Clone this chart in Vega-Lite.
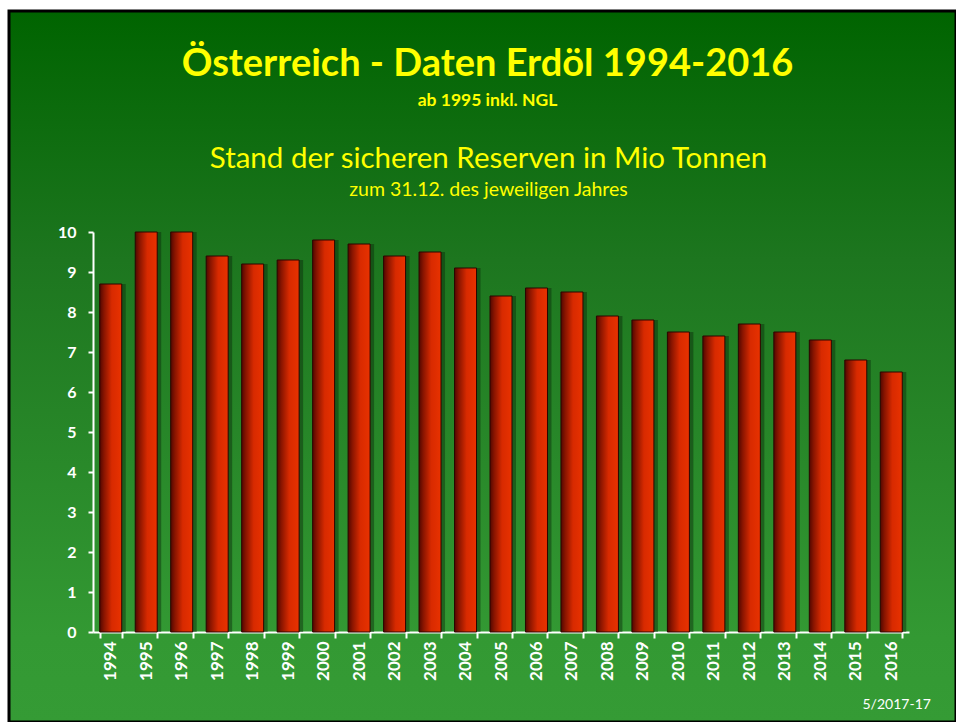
{
  "$schema": "https://vega.github.io/schema/vega-lite/v6.json",
  "width": 947,
  "height": 711,
  "autosize": {"type": "none"},
  "padding": {"left": 9, "top": 11, "right": 0, "bottom": 0},
  "background": "#ffffff",
  "view": {
    "fill": {"gradient": "linear", "x1": 0, "y1": 0, "x2": 0, "y2": 1,
      "stops": [
        {"offset": 0, "color": "#006400"},
        {"offset": 0.35, "color": "#1d761f"},
        {"offset": 0.88, "color": "#339933"},
        {"offset": 1, "color": "#359b35"}
      ]},
    "stroke": "#000000",
    "strokeWidth": 3
  },
  "title": {
    "text": "Österreich - Daten Erdöl 1994-2016",
    "subtitle": "ab 1995 inkl. NGL",
    "anchor": "middle",
    "frame": "group",
    "orient": "top",
    "offset": -98,
    "dx": 5,
    "font": "Lato",
    "fontSize": 38,
    "fontWeight": "bold",
    "color": "#ffff00",
    "subtitleFont": "Lato",
    "subtitleFontSize": 17.5,
    "subtitleFontWeight": "bold",
    "subtitleColor": "#ffff00",
    "subtitlePadding": 8
  },
  "data": {"values": [
    {"year": "1994", "value": 8.7},
    {"year": "1995", "value": 10.0},
    {"year": "1996", "value": 10.0},
    {"year": "1997", "value": 9.4},
    {"year": "1998", "value": 9.2},
    {"year": "1999", "value": 9.3},
    {"year": "2000", "value": 9.8},
    {"year": "2001", "value": 9.7},
    {"year": "2002", "value": 9.4},
    {"year": "2003", "value": 9.5},
    {"year": "2004", "value": 9.1},
    {"year": "2005", "value": 8.4},
    {"year": "2006", "value": 8.6},
    {"year": "2007", "value": 8.5},
    {"year": "2008", "value": 7.9},
    {"year": "2009", "value": 7.8},
    {"year": "2010", "value": 7.5},
    {"year": "2011", "value": 7.4},
    {"year": "2012", "value": 7.7},
    {"year": "2013", "value": 7.5},
    {"year": "2014", "value": 7.3},
    {"year": "2015", "value": 6.8},
    {"year": "2016", "value": 6.5}
  ]},
  "layer": [
    {
      "mark": {"type": "bar", "color": "#0b2a0b", "opacity": 0.45, "xOffset": 4},
      "encoding": {
        "x": {
          "field": "year", "type": "ordinal",
          "scale": {"range": [84, 900], "paddingInner": 0.38, "paddingOuter": 0.19},
          "axis": {
            "orient": "top", "labels": false, "ticks": false, "domain": false, "grid": false,
            "title": "zum 31.12. des jeweiligen Jahres",
            "titleX": 479, "titleY": 184, "titleAlign": "center", "titleBaseline": "alphabetic",
            "titleAngle": 0, "titleFont": "Lato", "titleFontSize": 19.5, "titleFontWeight": "normal",
            "titleColor": "#ffff00"
          }
        },
        "y": {
          "field": "value", "type": "quantitative",
          "scale": {"domain": [0, 10], "range": [621, 221], "nice": false, "zero": true},
          "axis": null
        }
      }
    },
    {
      "mark": {
        "type": "bar",
        "color": {"gradient": "linear", "x1": 0, "y1": 0, "x2": 1, "y2": 0,
          "stops": [
            {"offset": 0, "color": "#520700"},
            {"offset": 0.2, "color": "#8a1500"},
            {"offset": 0.55, "color": "#d82a00"},
            {"offset": 1, "color": "#e83200"}
          ]},
        "stroke": "#2a0600",
        "strokeWidth": 1
      },
      "encoding": {
        "x": {
          "field": "year", "type": "ordinal",
          "scale": {"range": [84, 900], "paddingInner": 0.38, "paddingOuter": 0.19},
          "axis": {
            "orient": "bottom", "offset": -90, "grid": false,
            "labelAngle": -90, "labelFont": "Lato", "labelFontSize": 17, "labelFontWeight": "bold",
            "labelColor": "#ffffff", "labelPadding": 3,
            "tickBand": "extent", "tickSize": 6, "tickWidth": 2, "tickColor": "#ffffff",
            "domainColor": "#ffffff", "domainWidth": 2,
            "title": "5/2017-17",
            "titleX": 853, "titleY": 76, "titleAlign": "left", "titleBaseline": "alphabetic",
            "titleAngle": 0, "titleFont": "Lato", "titleFontSize": 14, "titleFontWeight": "normal",
            "titleColor": "#ffffff"
          }
        },
        "y": {
          "field": "value", "type": "quantitative",
          "scale": {"domain": [0, 10], "range": [621, 221], "nice": false, "zero": true},
          "axis": {
            "orient": "left", "offset": -84, "grid": false,
            "values": [0, 1, 2, 3, 4, 5, 6, 7, 8, 9, 10],
            "labelFont": "Lato", "labelFontSize": 16, "labelFontWeight": "bold",
            "labelColor": "#ffffff", "labelPadding": 12,
            "tickSize": 5, "tickWidth": 2, "tickColor": "#ffffff",
            "domainColor": "#ffffff", "domainWidth": 2,
            "title": "Stand der sicheren Reserven in Mio Tonnen",
            "titleAngle": 0, "titleX": 395, "titleY": 156, "titleAlign": "center",
            "titleBaseline": "alphabetic", "titleFont": "Lato", "titleFontSize": 29.5,
            "titleFontWeight": "normal", "titleColor": "#ffff00"
          }
        }
      }
    }
  ],
  "resolve": {"axis": {"x": "independent", "y": "independent"}}
}
